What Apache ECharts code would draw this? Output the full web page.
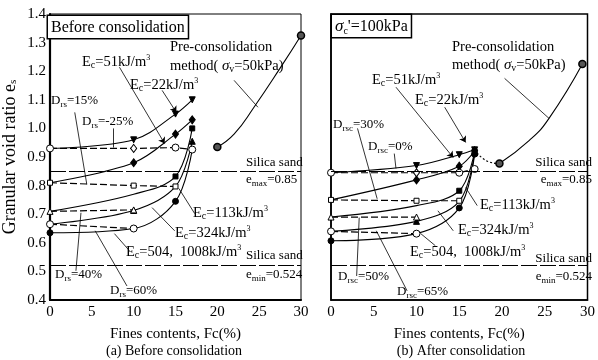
<!DOCTYPE html>
<html>
<head>
<meta charset="utf-8">
<script src="https://cdn.jsdelivr.net/npm/echarts@6/dist/echarts.min.js"></script>
<style>
  html, body { margin: 0; padding: 0; background: #fff; }
  #chart { width: 598px; height: 360px; }
</style>
</head>
<body>
<div id="chart"></div>
<script>
// x positions (fines content, %)
const fcBefore = [0, 10, 15, 17];
const fcAfter = [0, 10, 15, 16.8];
const fcTicks = [0, 5, 10, 15, 20, 25, 30];

// (a) before consolidation, constant compaction energy
const ec22Before = [0.93, 0.96, 1.05, 1.10];
const ec51Before = [0.81, 0.88, 0.98, 1.03];
const ec113Before = [0.71, 0.77, 0.832, 1.0];
const ec324Before = [0.665, 0.713, 0.797, 0.955];
const ec504Before = [0.635, 0.65, 0.745, 0.926];
// constant relative density
const drM25Before = [0.93, 0.93, 0.933, 0.926];
const dr15Before = [0.81, 0.80, 0.797];
const dr40Before = [0.71, 0.715];
const dr60Before = [0.665, 0.65];
// pre-consolidation method
const preFcBefore = [20, 22, 24.4, 27.6, 30];
const preBefore = [0.935, 0.98, 1.075, 1.215, 1.325];

// (b) after consolidation
const ec22After = [0.845, 0.87, 0.908, 0.925];
const ec51After = [0.75, 0.82, 0.868, 0.922];
const ec113After = [0.69, 0.73, 0.782, 0.92];
const ec324After = [0.64, 0.675, 0.745, 0.915];
const ec504After = [0.607, 0.632, 0.722, 0.91];
const dr0After = [0.845, 0.845, 0.845, 0.858];
const dr30After = [0.75, 0.747, 0.747];
const dr50After = [0.69, 0.69];
const dr65After = [0.64, 0.632];
const linkFcAfter = [16.8, 18.3, 19.7];
const linkAfter = [0.925, 0.885, 0.877];
const preFcAfter = [19.7, 23.2, 25.5, 29.4];
const preAfter = [0.877, 0.958, 1.035, 1.225];

// silica sand limits
const emax = 0.85;
const emin = 0.524;

const SERIF = '"Liberation Serif", "DejaVu Serif", serif';
const filled = { color: '#000', borderColor: '#000', borderWidth: 1 };
const open = { color: '#fff', borderColor: '#000', borderWidth: 1 };
const shapes = {
  v: { symbol: 'triangle', symbolRotate: 180, symbolSize: 6 },
  d: { symbol: 'diamond', symbolSize: [6, 8] },
  s: { symbol: 'rect', symbolSize: 5 },
  t: { symbol: 'triangle', symbolSize: 6 },
  c: { symbol: 'circle', symbolSize: 6 },
  o: { symbol: 'circle', symbolSize: 7 },
  '-': { symbol: 'none' }
};

function pts(fcs, vals, marks) {
  return fcs.map((f, i) => Object.assign({ value: [f, vals[i]] }, shapes[marks ? marks[i] : '-']));
}

function ecSeries(g, fcs, vals, marks) {
  return {
    type: 'line', xAxisIndex: g, yAxisIndex: g, smooth: 0.35,
    data: pts(fcs, vals, marks), itemStyle: filled,
    lineStyle: { color: '#000', width: 1.1 }, z: 3
  };
}

function drSeries(g, fcs, vals, marks) {
  return {
    type: 'line', xAxisIndex: g, yAxisIndex: g,
    data: pts(fcs, vals, marks), itemStyle: open,
    lineStyle: { color: '#000', width: 1.2, type: [7, 3] }, z: 4
  };
}

function preSeries(g, fcs, vals, dotted) {
  return {
    type: 'line', xAxisIndex: g, yAxisIndex: g, smooth: true,
    data: fcs.map((f, i) => ({
      value: [f, vals[i]],
      symbol: (!dotted && (i === 0 || i === fcs.length - 1)) ? 'circle' : 'none'
    })),
    symbolSize: 7,
    itemStyle: { color: '#555', borderColor: '#000', borderWidth: 1.5 },
    lineStyle: { color: '#000', width: 1.1, type: dotted ? [2, 2] : 'solid' }, z: 5
  };
}

function limits(g) {
  return {
    type: 'line', xAxisIndex: g, yAxisIndex: g, data: [],
    markLine: {
      silent: true, symbol: 'none', animation: false, label: { show: false },
      lineStyle: { color: '#000', width: 1, type: [16, 3] },
      data: [{ yAxis: emax }, { yAxis: emin }]
    }
  };
}

// leader lines from the annotations, in data coordinates
const arrowsBefore = [
  [[8.3, 1.214], [13.7, 0.947]],
  [[13.4, 1.133], [15.1, 1.056]]
];
const plainBefore = [
  [[22, 1.168], [24.85, 1.074]],
  [[2.96, 1.056], [4.4, 0.804]],
  [[7.5, 1.0], [7.5, 0.933]],
  [[17.3, 0.702], [15.4, 0.79]],
  [[14.9, 0.642], [12.2, 0.723]],
  [[9.5, 0.572], [7.7, 0.632]],
  [[3.1, 0.502], [3.7, 0.705]],
  [[9.2, 0.449], [5.4, 0.642]]
];
const arrowsAfter = [
  [[7.6, 1.144], [14.3, 0.898]],
  [[13.3, 1.074], [15.75, 0.951]]
];
const plainAfter = [
  [[20.3, 1.175], [25.5, 1.035]],
  [[3.1, 1.0], [5.4, 0.754]],
  [[7.4, 0.912], [7.6, 0.86]],
  [[17.1, 0.73], [15.75, 0.793]],
  [[14.3, 0.642], [12.5, 0.712]],
  [[12.2, 0.59], [10.5, 0.632]],
  [[3.0, 0.484], [3.3, 0.688]],
  [[8.9, 0.432], [5.3, 0.642]]
];

function leaders(g, list, arrow) {
  return {
    type: 'lines', coordinateSystem: 'cartesian2d', xAxisIndex: g, yAxisIndex: g,
    symbol: arrow ? ['none', 'arrow'] : 'none', symbolSize: 6, silent: true,
    lineStyle: { color: '#000', width: 0.8, opacity: 1 },
    data: list.map(c => ({ coords: c })), z: 6
  };
}

const RICH = {
  a: { fontSize: 13, fontFamily: SERIF, lineHeight: 16 },
  e: { fontSize: 14.5, fontFamily: SERIF, lineHeight: 17 },
  sb: { fontSize: 9, fontFamily: SERIF, lineHeight: 9, verticalAlign: 'bottom' },
  sc: { fontSize: 10, fontFamily: SERIF, lineHeight: 10, verticalAlign: 'bottom' },
  sp: { fontSize: 8, fontFamily: SERIF, lineHeight: 8, verticalAlign: 'top' },
  g: { fontSize: 15, fontFamily: SERIF, fontStyle: 'italic', lineHeight: 17 },
  big: { fontSize: 16, fontFamily: SERIF, lineHeight: 19 },
  bg: { fontSize: 17, fontFamily: SERIF, fontStyle: 'italic', lineHeight: 19 },
  cap: { fontSize: 14, fontFamily: SERIF, lineHeight: 17 }
};
const ec = n => `{e|E}{sc|c}{e|=${n}kJ/m}{sp|3}`;
const dr = (s, v) => `{a|D}{sb|${s}}{a|=${v}%}`;
const pre2 = '{e|method( }{g|σ}{sc|v}{e|=50kPa)}';

function txt(x, y, text, extra) {
  return {
    type: 'text', x: x, y: y, z: 10,
    style: Object.assign({ text: text, rich: RICH, fill: '#000', align: 'left', verticalAlign: 'middle' }, extra || {})
  };
}

const boxStyle = { borderColor: '#000', borderWidth: 1.5, padding: [2, 3, 1, 3], backgroundColor: '#fff', verticalAlign: 'top' };

const graphics = [
  txt(48, 16, '{big|Before consolidation}', boxStyle),
  txt(170, 47, '{e|Pre-consolidation}'),
  txt(170, 66, pre2),
  txt(82, 62, ec(51)),
  txt(130, 85, ec(22)),
  txt(51, 101, dr('rs', 15)),
  txt(82, 122, dr('rs', -25)),
  txt(246, 163, '{a|Silica sand}'),
  txt(246, 180, '{a|e}{sb|max}{a|=0.85}'),
  txt(193, 213, ec(113)),
  txt(175, 233, ec(324)),
  txt(126, 252, '{e|E}{sc|c}{e|=504,  1008kJ/m}{sp|3}'),
  txt(246, 256, '{a|Silica sand}'),
  txt(246, 275, '{a|e}{sb|min}{a|=0.524}'),
  txt(55, 275, dr('rs', 40)),
  txt(110, 291, dr('rs', 60)),

  txt(332, 15, "{bg|σ}{sc|c}{big|'=100kPa}", boxStyle),
  txt(452, 47, '{e|Pre-consolidation}'),
  txt(452, 65, pre2),
  txt(372, 80, ec(51)),
  txt(415, 100, ec(22)),
  txt(333, 125, dr('rsc', 30)),
  txt(368, 147, dr('rsc', 0)),
  txt(592, 163, '{a|Silica sand}', { align: 'right' }),
  txt(592, 180, '{a|e}{sb|max}{a|=0.85}', { align: 'right' }),
  txt(480, 205, ec(113)),
  txt(458, 230, ec(324)),
  txt(410, 252, '{e|E}{sc|c}{e|=504,  1008kJ/m}{sp|3}'),
  txt(592, 259, '{a|Silica sand}', { align: 'right' }),
  txt(592, 277, '{a|e}{sb|min}{a|=0.524}', { align: 'right' }),
  txt(338, 277, dr('rsc', 50)),
  txt(397, 292, dr('rsc', 65)),

  txt(174, 351, '{cap|(a) Before consolidation}', { align: 'center' }),
  txt(461, 351, '{cap|(b) After consolidation}', { align: 'center' })
];

function xAxis(g, w) {
  return {
    gridIndex: g, type: 'value', min: fcTicks[0], max: fcTicks[fcTicks.length - 1], interval: 5,
    name: 'Fines contents, Fc(%)', nameLocation: 'middle', nameGap: 27,
    nameTextStyle: { fontFamily: SERIF, fontSize: 15, color: '#000' },
    axisLine: { lineStyle: { color: '#000', width: w } },
    axisTick: { show: false }, splitLine: { show: false },
    axisLabel: { fontFamily: SERIF, fontSize: 15, color: '#000', margin: 5 }
  };
}

function yAxis(g, w, labels) {
  return {
    gridIndex: g, type: 'value', min: 0.4, max: 1.4, interval: 0.1,
    name: labels ? 'Granular void ratio e{s|s}' : '', nameLocation: 'middle', nameGap: 31,
    nameTextStyle: { fontFamily: SERIF, fontSize: 18, color: '#000',
      rich: { s: { fontFamily: SERIF, fontSize: 11, verticalAlign: 'bottom', lineHeight: 11 } } },
    axisLine: { show: true, lineStyle: { color: '#000', width: w } },
    axisTick: { show: false }, splitLine: { show: false },
    axisLabel: { show: labels, fontFamily: SERIF, fontSize: 15, color: '#000', margin: 4,
      formatter: v => v.toFixed(1) }
  };
}

const option = {
  animation: false,
  backgroundColor: '#fff',
  grid: [
    { left: 47, top: 14, width: 254, height: 286, show: true, borderColor: '#000', borderWidth: 1 },
    { left: 331, top: 14, width: 262, height: 286, show: true, borderColor: '#000', borderWidth: 1.5 }
  ],
  xAxis: [xAxis(0, 2.2), xAxis(1, 1.5)],
  yAxis: [yAxis(0, 2.2, true), yAxis(1, 1.5, false)],
  graphic: graphics,
  series: [
    limits(0),
    ecSeries(0, fcBefore, ec22Before, ['-', 'v', 'v', 'v']),
    ecSeries(0, fcBefore, ec51Before, ['-', 'd', 'd', 'd']),
    ecSeries(0, fcBefore, ec113Before, ['-', '-', 's', 's']),
    ecSeries(0, fcBefore, ec324Before, ['-', 't', '-', 't']),
    ecSeries(0, fcBefore, ec504Before, ['c', '-', 'c', '-']),
    drSeries(0, fcBefore, drM25Before, ['o', 'd', 'o', 'o']),
    drSeries(0, fcBefore, dr15Before, ['s', 's', 's']),
    drSeries(0, fcBefore, dr40Before, ['t', 't']),
    drSeries(0, fcBefore, dr60Before, ['o', 'o']),
    preSeries(0, preFcBefore, preBefore, false),
    leaders(0, arrowsBefore, true),
    leaders(0, plainBefore, false),

    limits(1),
    ecSeries(1, fcAfter, ec22After, ['-', 'v', 'v', 'v']),
    ecSeries(1, fcAfter, ec51After, ['-', 'd', 'd', 'd']),
    ecSeries(1, fcAfter, ec113After, ['-', '-', 's', 's']),
    ecSeries(1, fcAfter, ec324After, ['-', 't', '-', 't']),
    ecSeries(1, fcAfter, ec504After, ['c', '-', 'c', 'c']),
    drSeries(1, fcAfter, dr0After, ['o', 'd', 'o', 'o']),
    drSeries(1, fcAfter, dr30After, ['s', 's', 's']),
    drSeries(1, fcAfter, dr50After, ['t', 't']),
    drSeries(1, fcAfter, dr65After, ['o', 'o']),
    preSeries(1, linkFcAfter, linkAfter, true),
    preSeries(1, preFcAfter, preAfter, false),
    leaders(1, arrowsAfter, true),
    leaders(1, plainAfter, false)
  ]
};

const chart = echarts.init(document.getElementById('chart'));
chart.setOption(option);
</script>
</body>
</html>
